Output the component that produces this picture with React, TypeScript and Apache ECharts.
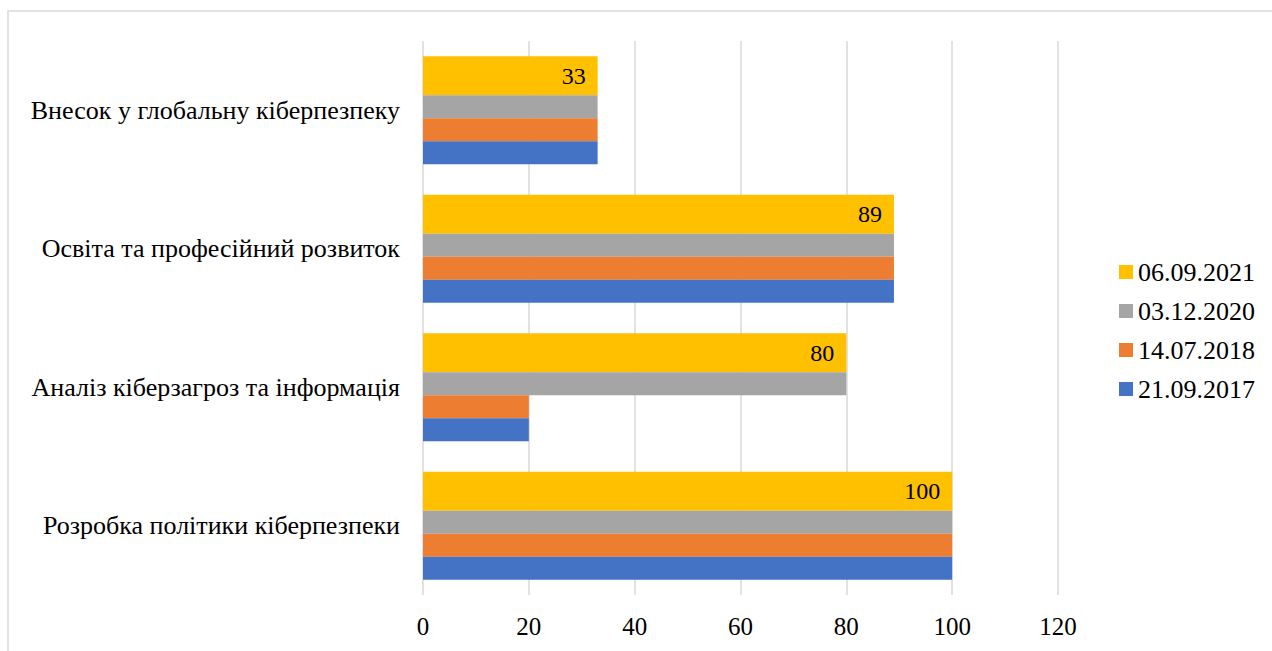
import React, { useEffect, useRef } from "react";
import * as echarts from "echarts";

const categories = [
  "Розробка політики кіберпезпеки",
  "Аналіз кіберзагроз та інформація",
  "Освіта та професійний розвиток",
  "Внесок у глобальну кіберпезпеку",
];
// top-to-bottom order inside each category group
const seriesNames = ["06.09.2021", "03.12.2020", "14.07.2018", "21.09.2017"];
const values2021 = [100, 80, 89, 33];
const values2020 = [100, 80, 89, 33];
const values2018 = [100, 20, 89, 33];
const values2017 = [100, 20, 89, 33];
const xTicks = [0, 20, 40, 60, 80, 100, 120];

const colors = ["#FFC000", "#A5A5A5", "#ED7D31", "#4472C4"];
const FONT = "Liberation Serif";

export default function App() {
  const ref = useRef<HTMLDivElement>(null);
  useEffect(() => {
    if (!ref.current) return;
    const chart = echarts.init(ref.current, null, { renderer: "svg" });
    const allValues = [values2021, values2020, values2018, values2017];
    chart.setOption({
      animation: false,
      backgroundColor: "#ffffff",
      graphic: [
        {
          type: "rect",
          shape: { x: 8, y: 11, width: 1300, height: 700 },
          style: { fill: "none", stroke: "#d9d9d9", lineWidth: 1.5 },
          silent: true,
        },
      ],
      legend: {
        orient: "vertical",
        left: 1114,
        top: 254,
        itemWidth: 14,
        itemHeight: 14,
        itemGap: 13,
        icon: "rect",
        data: seriesNames,
        textStyle: { fontFamily: FONT, fontSize: 26, color: "#000" },
      },
      grid: { left: 423, right: 214, top: 41, bottom: 56, containLabel: false },
      xAxis: {
        type: "value",
        min: xTicks[0],
        max: xTicks[xTicks.length - 1],
        interval: 20,
        axisLine: { show: false },
        axisTick: { show: false },
        splitLine: { show: true, lineStyle: { color: "#d9d9d9", width: 1.5 } },
        axisLabel: { fontFamily: FONT, fontSize: 25, color: "#000", margin: 19 },
      },
      yAxis: {
        type: "category",
        data: categories,
        axisLine: { show: false },
        axisTick: { show: false },
        axisLabel: { fontFamily: FONT, fontSize: 26, color: "#000", margin: 23 },
      },
      series: seriesNames.map((name, i) => ({
        name,
        type: "bar",
        data: allValues[i],
        barWidth: i === 0 ? 39 : 23,
        barGap: "0%",
        itemStyle: { color: colors[i] },
        label:
          i === 0
            ? {
                show: true,
                position: "insideRight",
                distance: 12,
                fontFamily: FONT,
                fontSize: 24,
                color: "#000",
              }
            : { show: false },
      })),
    });
    return () => chart.dispose();
  }, []);
  return (
    <div
      ref={ref}
      style={{ position: "fixed", left: 0, top: 0, width: 1272, height: 651 }}
    />
  );
}
